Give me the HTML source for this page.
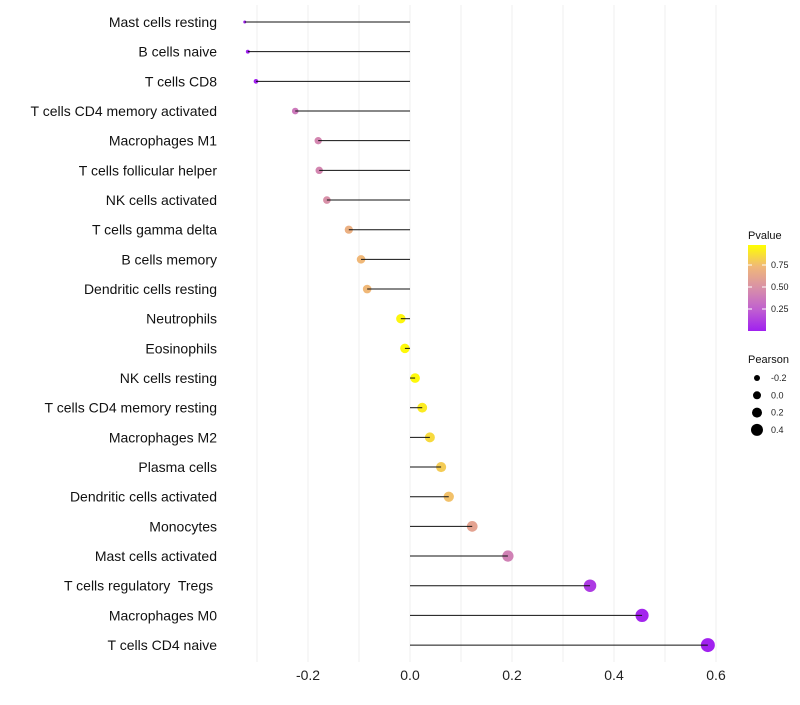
<!DOCTYPE html>
<html><head><meta charset="utf-8"><style>
body{margin:0;background:#fff;font-family:"Liberation Sans",sans-serif}
svg text{font-family:"Liberation Sans",sans-serif;white-space:pre}
</style></head><body>
<svg id="c" width="800" height="700"></svg>
<script>
const cells=["Mast cells resting","B cells naive","T cells CD8","T cells CD4 memory activated","Macrophages M1","T cells follicular helper","NK cells activated","T cells gamma delta","B cells memory","Dendritic cells resting","Neutrophils","Eosinophils","NK cells resting","T cells CD4 memory resting","Macrophages M2","Plasma cells","Dendritic cells activated","Monocytes","Mast cells activated","T cells regulatory  Tregs ","Macrophages M0","T cells CD4 naive"];
const pearson=[-0.324,-0.318,-0.302,-0.225,-0.18,-0.178,-0.163,-0.12,-0.096,-0.084,-0.018,-0.01,0.01,0.024,0.039,0.061,0.076,0.122,0.192,0.353,0.455,0.584];
const pvalue=[0.001,0.002,0.005,0.38,0.45,0.45,0.5,0.7,0.75,0.75,0.97,0.98,0.98,0.93,0.87,0.82,0.78,0.62,0.42,0.1,0.02,0.005];
const xTicks=[-0.2,0.0,0.2,0.4,0.6];
const xTickLabels=["-0.2","0.0","0.2","0.4","0.6"];
const pTicks=[0.25,0.5,0.75];
const pTickLabels=["0.25","0.50","0.75"];
const sizeKeys=[-0.2,0.0,0.2,0.4];
const sizeKeyLabels=["-0.2","0.0","0.2","0.4"];

const NS="http://www.w3.org/2000/svg",svg=document.getElementById('c');
function mk(t,a,p){const e=document.createElementNS(NS,t);for(const k in a)e.setAttribute(k,a[k]);(p||svg).appendChild(e);return e;}
const xs=v=>410+v*510;
const ys=i=>22+i*29.67;
const rs=v=>1.5+5.5*Math.sqrt(Math.max(0,(v+0.324)/0.908));
const stops=[[0,[160,32,240]],[0.25,[192,96,208]],[0.5,[216,144,168]],[0.75,[240,184,120]],[1,[255,255,0]]];
function col(p){for(let i=1;i<stops.length;i++){if(p<=stops[i][0]){const a=stops[i-1],b=stops[i],t=(p-a[0])/(b[0]-a[0]);return 'rgb('+a[1].map((c,j)=>Math.round(c+(b[1][j]-c)*t)).join(',')+')';}}return 'rgb(255,255,0)';}
for(let k=-3;k<=6;k++){const v=k/10;const l=mk('line',{x1:xs(v),x2:xs(v),y1:5,y2:662,stroke:'#efefef','stroke-width':1});
}
xTicks.forEach((v,i)=>{const t=mk('text',{x:xs(v),y:680,'text-anchor':'middle','font-size':14,fill:'#222'});t.textContent=xTickLabels[i];
});
cells.forEach((c,i)=>{const y=ys(i);
const t=mk('text',{x:217,y:y+5,'text-anchor':'end','font-size':14,fill:'#111'});t.textContent=c;

const d=mk('circle',{cx:xs(pearson[i]),cy:y,r:rs(pearson[i]),fill:col(pvalue[i])});

const l=mk('line',{x1:xs(0),x2:xs(pearson[i]),y1:y,y2:y,stroke:'#111','stroke-width':1});

});
const lt=mk('text',{x:748,y:239,'font-size':11,fill:'#111'});lt.textContent='Pvalue';

const defs=mk('defs',{});const g=mk('linearGradient',{id:'pg',x1:0,y1:1,x2:0,y2:0},defs);
stops.forEach(s=>mk('stop',{offset:s[0],'stop-color':'rgb('+s[1].join(',')+')'},g));
const bar=mk('rect',{x:748,y:245,width:18,height:86,fill:'url(#pg)'});

const py=p=>331-p*88;
pTicks.forEach((p,i)=>{mk('line',{x1:748,x2:752,y1:py(p),y2:py(p),stroke:'#fff'});mk('line',{x1:762,x2:766,y1:py(p),y2:py(p),stroke:'#fff'});
const t=mk('text',{x:771,y:py(p)+3,'font-size':9,fill:'#222'});t.textContent=pTickLabels[i];
});
const st=mk('text',{x:748,y:363,'font-size':11,fill:'#111'});st.textContent='Pearson';

const legR=[3,4,5,6];
sizeKeys.forEach((v,i)=>{const y=378+i*17.3;
const c=mk('circle',{cx:757,cy:y,r:legR[i],fill:'#000'});

const t=mk('text',{x:771,y:y+3,'font-size':9,fill:'#222'});t.textContent=sizeKeyLabels[i];
});
</script>
</body></html>
